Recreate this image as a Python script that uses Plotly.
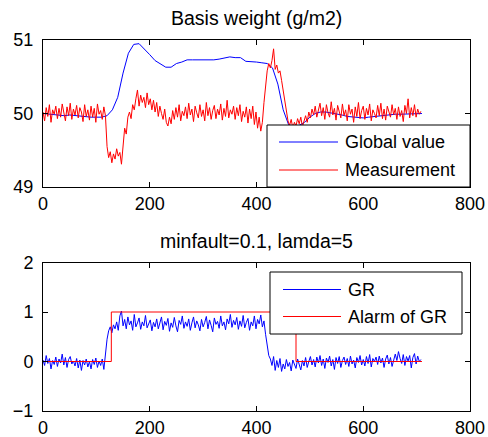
import plotly.graph_objects as go

# ---------------- data ----------------
meas_x = list(range(0, 709, 3))
measurement = [
    50.02, 49.90, 50.08, 49.96, 50.12, 49.88, 50.05, 49.99, 50.10, 49.93,
    50.07, 49.95, 50.13, 50.00, 49.90, 50.09, 49.97, 50.14, 49.92, 50.06,
    49.98, 50.11, 49.94, 50.08, 50.02, 49.89, 50.12, 49.96, 50.05, 49.91,
    50.10, 49.95, 50.07, 49.88, 50.13, 49.99, 50.04, 49.92, 50.09, 49.97,
    49.55, 49.40, 49.48, 49.33, 49.45, 49.38, 49.52, 49.42, 49.47, 49.31,
    49.62, 49.80, 49.72, 49.95, 50.02, 49.93, 50.12, 50.05, 50.20, 50.32,
    50.10, 50.25, 50.15, 50.22, 50.08, 50.28, 50.12, 50.20, 50.05, 50.18,
    50.02, 50.15, 49.96, 50.10, 50.00, 49.92, 50.06, 49.88, 49.83, 49.95,
    49.86, 50.04, 49.92, 50.08, 49.95, 50.12, 49.90, 50.03, 49.97, 50.09,
    49.93, 50.14, 49.98, 50.06, 49.89, 50.10, 50.01, 49.94, 50.12, 49.96,
    50.05, 49.90, 50.15, 49.97, 50.08, 49.92, 50.04, 50.11, 49.93, 50.06,
    49.98, 50.13, 49.91, 50.07, 49.96, 50.18, 49.94, 50.05, 49.99, 50.10,
    49.92, 50.08, 49.97, 50.12, 49.89, 50.03, 49.95, 50.09, 49.87, 50.06,
    49.93, 50.10, 49.85, 50.02, 49.80, 49.95, 49.76, 49.88, 50.15, 50.40,
    50.58, 50.68, 50.62, 50.72, 50.88, 50.60, 50.66, 50.55, 50.58, 50.45,
    50.30, 50.18, 50.02, 49.90, 49.84, 49.92, 49.80, 49.88, 49.83, 49.93,
    49.86, 49.95, 49.82, 49.90, 49.97, 49.88, 50.02, 49.94, 50.06, 49.98,
    50.10, 49.95, 50.05, 50.14, 49.97, 50.08, 49.92, 50.12, 50.01, 49.95,
    50.16, 49.98, 50.07, 49.91, 50.11, 50.02, 49.94, 50.13, 49.97, 50.05,
    49.90, 50.12, 49.99, 50.06, 49.88, 50.09, 49.96, 50.15, 49.93, 50.04,
    50.10, 49.92, 50.07, 49.98, 50.13, 49.90, 50.05, 50.00, 49.94, 50.11,
    49.97, 50.14, 49.93, 50.06, 49.91, 50.10, 50.01, 49.95, 50.12, 49.98,
    50.07, 49.92, 50.09, 49.96, 50.04, 49.89, 50.11, 50.00, 50.20, 49.94,
    50.08, 49.97, 50.12, 49.95, 50.06, 49.99, 50.03,
]

glob_x = list(range(0, 711, 10))
global_value = [
    50.00, 49.99, 49.98, 49.98, 49.97, 49.98, 49.97, 49.96, 49.96, 49.95,
    49.95, 49.95, 49.97, 50.05, 50.22, 50.55, 50.82, 50.94, 50.95, 50.88,
    50.80, 50.72, 50.67, 50.63, 50.63, 50.68, 50.70, 50.73, 50.73, 50.73,
    50.72, 50.73, 50.73, 50.74, 50.76, 50.77, 50.76, 50.76, 50.71, 50.71,
    50.70, 50.69, 50.68, 50.62, 50.40, 50.05, 49.85, 49.82, 49.84, 49.88,
    49.95, 50.00, 50.02, 50.02, 50.01, 50.00, 49.98, 49.96, 49.95, 49.94,
    49.94, 49.95, 49.96, 49.97, 49.98, 49.98, 49.99, 49.99, 49.99, 50.00,
    50.00, 50.00,
]

gr_x = list(range(0, 709, 3))
gr = [
    0.03, -0.08, 0.12, -0.04, 0.06, -0.15, 0.02, -0.06, 0.09, -0.10,
    0.05, -0.03, 0.15, -0.07, 0.08, -0.12, 0.04, 0.10, -0.05, 0.01,
    -0.09, 0.06, -0.13, 0.03, -0.18, 0.02, -0.07, 0.05, -0.11, 0.00,
    -0.15, 0.04, -0.06, 0.07, -0.12, 0.01, -0.08, 0.05, -0.16, 0.20,
    0.45, 0.62, 0.70, 0.58, 0.74, 0.66, 0.80, 0.63, 0.92, 1.02,
    0.72, 0.85, 0.66, 0.90, 0.74, 0.82, 0.63, 0.95, 0.70, 0.78,
    0.88, 0.65, 0.80, 0.72, 0.93, 0.68, 0.76, 0.84, 0.62, 0.79,
    0.70, 0.86, 0.66, 0.77, 0.90, 0.64, 0.81, 0.73, 0.87, 0.61,
    0.78, 0.69, 0.89, 0.72, 0.60, 0.83, 0.75, 0.92, 0.67, 0.80,
    0.71, 0.86, 0.63, 0.78, 0.90, 0.68, 0.82, 0.74, 0.62, 0.85,
    0.70, 0.79, 0.91, 0.66, 0.84, 0.73, 0.60, 0.88, 0.75, 0.81,
    0.67, 0.92, 0.72, 0.80, 0.64, 0.86, 0.76, 0.95, 0.69, 0.83,
    0.74, 0.89, 0.65, 0.82, 0.71, 0.93, 0.68, 0.79, 0.87, 0.63,
    0.80, 0.72, 0.92, 0.66, 0.85, 0.76, 0.94, 0.70, 0.82, 0.55,
    0.30, 0.12, 0.05, -0.08, 0.10, -0.18, 0.02, -0.12, 0.06, -0.20,
    -0.05, -0.15, 0.04, -0.10, -0.02, -0.19, 0.03, -0.08, -0.14, 0.05,
    -0.06, -0.17, 0.02, -0.09, 0.08, -0.12, 0.00, 0.10, -0.07, 0.04,
    -0.11, 0.09, -0.03, 0.12, -0.08, 0.05, -0.14, 0.07, -0.02, 0.11,
    -0.09, 0.04, -0.16, 0.08, -0.04, 0.10, -0.12, 0.02, 0.09, -0.06,
    0.06, -0.10, 0.11, -0.05, 0.03, -0.13, 0.08, -0.02, 0.12, -0.07,
    0.04, -0.09, 0.10, -0.04, 0.14, -0.11, 0.06, 0.00, 0.09, -0.06,
    0.11, -0.03, 0.07, -0.12, 0.05, 0.13, -0.05, 0.08, -0.10, 0.04,
    0.15, 0.02, 0.20, 0.06, -0.04, 0.14, -0.08, 0.10, 0.01, 0.12,
    -0.13, 0.08, 0.16, -0.05, 0.11, 0.00, 0.04,
]

alarm_x = [0, 128, 474, 710]
alarm = [0, 1, 0, 0]

x_ticks = [0, 200, 400, 600, 800]
top_y_ticks = [49, 50, 51]
bot_y_ticks = [-1, 0, 1, 2]

top_title = "Basis weight (g/m2)"
bot_title = "minfault=0.1, lamda=5"
top_legend = ["Global value", "Measurement"]
bot_legend = ["GR", "Alarm of GR"]

# ---------------- layout helpers ----------------
W, H = 488, 437
L, R, T, B = 43, 18, 40, 26
PW, PH = W - L - R, H - T - B

def px2x(px):
    return (px - L) / PW

def py2y(py):
    return (H - B - py) / PH

FONT = "Liberation Sans, Arial, Helvetica, sans-serif"
BLUE = "rgb(0,0,255)"
RED = "rgb(255,0,0)"

fig = go.Figure()
fig.add_trace(go.Scatter(x=glob_x, y=global_value, mode="lines",
                         line=dict(color=BLUE, width=1), xaxis="x", yaxis="y"))
fig.add_trace(go.Scatter(x=meas_x, y=measurement, mode="lines",
                         line=dict(color=RED, width=1), xaxis="x", yaxis="y"))
fig.add_trace(go.Scatter(x=gr_x, y=gr, mode="lines",
                         line=dict(color=BLUE, width=1), xaxis="x2", yaxis="y2"))
fig.add_trace(go.Scatter(x=alarm_x, y=alarm, mode="lines", line_shape="hv",
                         line=dict(color=RED, width=1), xaxis="x2", yaxis="y2"))

axis_common = dict(showline=True, linecolor="black", linewidth=1, mirror="ticks",
                   ticks="inside", ticklen=5, tickcolor="black", showgrid=False,
                   zeroline=False, ticklabeloverflow="allow", automargin=False,
                   tickfont=dict(family=FONT, size=18, color="black"))

top_dom = [py2y(187), 1.0]
bot_dom = [0.0, py2y(262.5)]

fig.update_layout(
    width=W, height=H,
    margin=dict(l=L, r=R, t=T, b=B, autoexpand=False),
    paper_bgcolor="white", plot_bgcolor="white",
    showlegend=False,
    xaxis=dict(domain=[0, 1], range=[0, 800], tickvals=x_ticks, anchor="y", **axis_common),
    yaxis=dict(domain=top_dom, range=[49, 51], tickvals=top_y_ticks, anchor="x",
               ticklabelstandoff=5, **axis_common),
    xaxis2=dict(domain=[0, 1], range=[0, 800], tickvals=x_ticks, anchor="y2", **axis_common),
    yaxis2=dict(domain=bot_dom, range=[-1, 2], tickvals=bot_y_ticks, anchor="x2",
                ticklabelstandoff=5, **axis_common),
)

shapes = []
annotations = []

# titles
annotations.append(dict(text=top_title, xref="paper", yref="paper", x=px2x(256), y=py2y(18),
                        xanchor="center", yanchor="middle", showarrow=False,
                        font=dict(family=FONT, size=19.5, color="black")))
annotations.append(dict(text=bot_title, xref="paper", yref="paper", x=px2x(256), y=py2y(241),
                        xanchor="center", yanchor="middle", showarrow=False,
                        font=dict(family=FONT, size=19.5, color="black")))

def legend(box, rows, colors):
    x0, y0, x1, y1 = box
    shapes.append(dict(type="rect", xref="paper", yref="paper", layer="above",
                       x0=px2x(x0), x1=px2x(x1), y0=py2y(y1), y1=py2y(y0),
                       fillcolor="white", line=dict(color="black", width=1)))
    for (lx0, lx1, ly, tx, label), c in zip(rows, colors):
        shapes.append(dict(type="line", xref="paper", yref="paper", layer="above",
                           x0=px2x(lx0), x1=px2x(lx1), y0=py2y(ly), y1=py2y(ly),
                           line=dict(color=c, width=1)))
        annotations.append(dict(text=label, xref="paper", yref="paper", x=px2x(tx), y=py2y(ly),
                                xanchor="left", yanchor="middle", showarrow=False,
                                font=dict(family=FONT, size=18, color="black")))

legend((267, 125, 470, 187),
       [(279, 338, 142, 343, top_legend[0]), (279, 338, 170, 343, top_legend[1])],
       [BLUE, RED])
legend((270, 272, 462, 334),
       [(283, 341, 289.5, 346, bot_legend[0]), (283, 341, 316.5, 346, bot_legend[1])],
       [BLUE, RED])

fig.update_layout(shapes=shapes, annotations=annotations)
fig.write_html("out.html",
               config={"displayModeBar": False},
               post_script="document.body.style.margin='0px';document.body.style.overflow='hidden';")
